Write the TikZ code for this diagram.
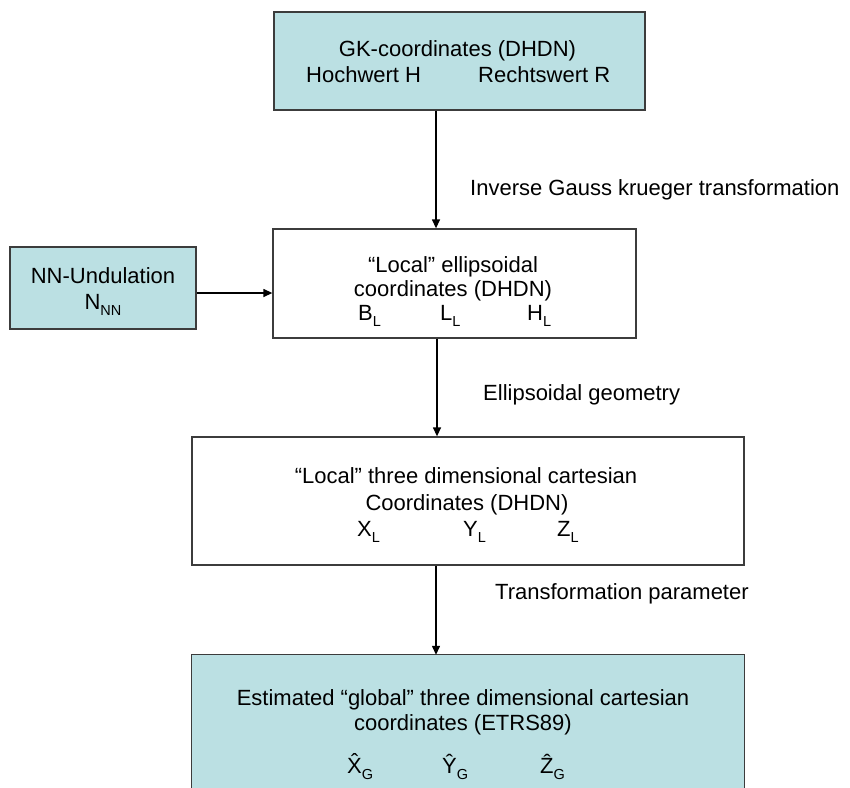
\documentclass[tikz,border=0pt]{standalone}
\usepackage{fontspec}
\setmainfont{Liberation Sans}
\usetikzlibrary{arrows.meta}
\definecolor{boxfill}{RGB}{187,224,227}
\definecolor{boxline}{RGB}{60,60,60}
\newcommand\sbs[1]{\raisebox{-0.28em}{\fontsize{14.5}{15}\selectfont #1}}
\tikzset{
  panel/.style={draw=boxline, line width=1.3pt, inner sep=0pt},
  bluepanel/.style={panel, fill=boxfill},
  txt/.style={anchor=base, inner sep=0pt, font=\fontsize{22}{26}\selectfont},
  flow/.style={line width=1.3pt, -{Triangle[length=9pt,width=8pt]}}
}
\begin{document}
\begin{tikzpicture}[x=1pt,y=-1pt]
\useasboundingbox (0,0) rectangle (850,787);
% boxes
\node[bluepanel, minimum width=371pt, minimum height=98pt] (gk) at (459.5,61) {};
\node[panel, fill=white, minimum width=363pt, minimum height=109pt] (loc) at (454.5,283.5) {};
\node[bluepanel, minimum width=186pt, minimum height=82pt] (nn) at (103,288) {};
\node[panel, fill=white, minimum width=552pt, minimum height=128pt] (cart) at (468,501) {};
\node[fill=boxfill, inner sep=0pt, minimum width=552pt, minimum height=140pt] (glob) at (468,725) {};
\draw[draw=boxline, line width=1.3pt] (glob.south west) -- (glob.north west) -- (glob.north east) -- (glob.south east);
% texts box 1
\node[txt] (gk1) at (457.5,56) {GK-coordinates (DHDN)};
\node[txt, anchor=base west] (gk2) at (306,82) {Hochwert H};
\node[txt, anchor=base west] (gk3) at (478,82) {Rechtswert R};
% box 2
\node[txt] (l1) at (453,272) {“Local” ellipsoidal};
\node[txt] (l2) at (453,296) {coordinates (DHDN)};
\node[txt, anchor=base west] (l3) at (358,320) {B\sbs{L}};
\node[txt, anchor=base west] (l4) at (440,320) {L\sbs{L}};
\node[txt, anchor=base west] (l5) at (527,320) {H\sbs{L}};
% NN box
\node[txt] (n1) at (103,283) {NN-Undulation};
\node[txt] (n2) at (103,309) {N\sbs{NN}};
% box 3
\node[txt] (c1) at (466,483) {“Local” three dimensional cartesian};
\node[txt] (c2) at (467,510) {Coordinates (DHDN)};
\node[txt, anchor=base west] (c3) at (357,536) {X\sbs{L}};
\node[txt, anchor=base west] (c4) at (463,536) {Y\sbs{L}};
\node[txt, anchor=base west] (c5) at (557,536) {Z\sbs{L}};
% box 4
\node[txt] (g1) at (463,705) {Estimated “global” three dimensional cartesian};
\node[txt] (g2) at (463,730) {coordinates (ETRS89)};
\node[txt, anchor=base west] (g3) at (347,773) {\^{X}\sbs{G}};
\node[txt, anchor=base west] (g4) at (442,773) {\^{Y}\sbs{G}};
\node[txt, anchor=base west] (g5) at (540,773) {\^{Z}\sbs{G}};
% labels
\node[txt, anchor=base west] (lab1) at (470,195) {Inverse Gauss krueger transformation};
\node[txt, anchor=base west] (lab2) at (483,400) {Ellipsoidal geometry};
\node[txt, anchor=base west] (lab3) at (495,599) {Transformation parameter};
% connectors
\draw[flow] (gk.south -| 436,0) -- (loc.north -| 436,0);
\draw[flow] (loc.south -| 437,0) -- (cart.north -| 437,0);
\draw[flow] (cart.south -| 436,0) -- (glob.north -| 436,0);
\draw[flow] (nn.east |- 0,293) -- (loc.west |- 0,293);
\end{tikzpicture}
\end{document}
